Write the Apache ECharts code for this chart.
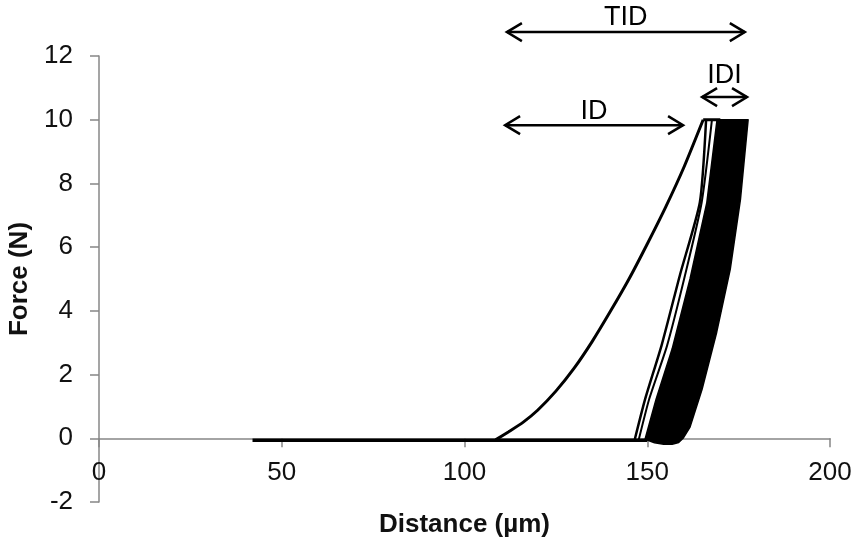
<!DOCTYPE html>
<html>
<head>
<meta charset="utf-8">
<title>Force vs distance</title>
<script src="https://cdn.jsdelivr.net/npm/echarts@6/dist/echarts.min.js"></script>
<style>
  html, body { margin: 0; padding: 0; background: #fff; }
  #main { width: 856px; height: 545px; }
</style>
</head>
<body>
<div id="main"></div>
<script>
// approach before contact, force ~ 0
var baseX = [42, 150];
var baseY = [-0.06, -0.06];

// first loading up to 10 N
var loadX = [108.5, 112, 116, 120, 125, 130, 135, 140, 145, 150, 155, 160, 165.3];
var loadY = [-0.05, 0.2, 0.5, 0.88, 1.48, 2.2, 3.05, 4.0, 5.0, 6.1, 7.25, 8.5, 10];

// hold at 10 N
var holdX = [165.3, 170];
var holdY = [10, 10];

// first two unload / reload lines left of the cycle band
var unloadAX = [166.1, 164.4, 159.0, 154.0, 149.4, 146.6];
var unloadAY = [10, 7.41, 5.15, 2.95, 1.22, -0.03];
var unloadBX = [167.7, 164.9, 160.3, 155.4, 150.5, 147.7];
var unloadBY = [10, 7.41, 5.1, 2.9, 1.22, -0.03];

// outline of the dense band of repeated cycles
var bandX = [169.1, 166.3, 161.7, 156.8, 152.4, 149.4, 152.0, 154.5, 156.8, 158.6, 159.8, 161.7, 165.0, 169.0, 172.7, 175.5, 177.6];
var bandY = [10, 7.4, 5.0, 2.8, 1.22, -0.03, -0.14, -0.19, -0.19, -0.13, 0.0, 0.35, 1.54, 3.33, 5.3, 7.5, 10];

// double arrows drawn above the curves
var arrowNames = ['TID', 'ID', 'IDI'];
var arrowFrom = [111.6, 111.1, 165.0];
var arrowTo = [176.7, 159.8, 177.3];
var arrowY = [12.75, 9.83, 10.71];

var xTicks = [0, 200, 50];
var yTicks = [-2, 12, 2];

function pairs(xs, ys) {
    return xs.map(function (x, i) { return [x, ys[i]]; });
}

var myChart = echarts.init(document.getElementById('main'));

var axisGray = '#878787';
var font = 'Liberation Sans, Arial, sans-serif';

function lineSeries(xs, ys, width, smooth) {
    return {
        type: 'line',
        data: pairs(xs, ys),
        showSymbol: false,
        smooth: smooth || false,
        silent: true,
        lineStyle: { color: '#000', width: width },
        z: 3
    };
}

var option = {
    animation: false,
    grid: { left: 99, right: 26, top: 56, bottom: 43, containLabel: false, outerBoundsMode: 'none' },
    xAxis: {
        type: 'value',
        min: xTicks[0], max: xTicks[1], interval: xTicks[2],
        axisLine: { onZero: true, lineStyle: { color: axisGray, width: 1.5 } },
        axisTick: { show: true, length: 9, lineStyle: { color: axisGray, width: 1.5 } },
        // labels sit at the grid bottom, pull them up next to the zero line
        axisLabel: { fontSize: 26, color: '#111', margin: -42, fontFamily: font },
        splitLine: { show: false },
        name: 'Distance (µm)',
        nameLocation: 'middle',
        nameGap: 10,
        nameTextStyle: { fontSize: 26, fontWeight: 'bold', color: '#111', fontFamily: font }
    },
    yAxis: {
        type: 'value',
        min: yTicks[0], max: yTicks[1], interval: yTicks[2],
        axisLine: { show: true, onZero: false, lineStyle: { color: axisGray, width: 1.5 } },
        axisTick: { show: true, length: 9, lineStyle: { color: axisGray, width: 1.5 } },
        axisLabel: { fontSize: 26, color: '#111', margin: 26, fontFamily: font },
        splitLine: { show: false },
        name: 'Force (N)',
        nameLocation: 'middle',
        nameGap: 66,
        nameTextStyle: { fontSize: 26, fontWeight: 'bold', color: '#111', fontFamily: font }
    },
    series: [
        lineSeries(baseX, baseY, 3.5),
        lineSeries(loadX, loadY, 3, 0.2),
        lineSeries(holdX, holdY, 3),
        lineSeries(unloadAX, unloadAY, 2.5, 0.2),
        lineSeries(unloadBX, unloadBY, 2, 0.2),
        {
            type: 'custom',
            silent: true,
            data: [[bandX[0], bandY[0]]],
            renderItem: function (params, api) {
                var pts = bandX.map(function (x, i) { return api.coord([x, bandY[i]]); });
                return {
                    type: 'polygon',
                    shape: { points: pts },
                    style: { fill: '#000', stroke: '#000', lineWidth: 1.5, lineJoin: 'round' }
                };
            },
            z: 4
        },
        {
            type: 'custom',
            silent: true,
            clip: false,
            data: arrowNames.map(function (n, i) { return [arrowFrom[i], arrowY[i]]; }),
            encode: { x: 0, y: 1 },
            renderItem: function (params, api) {
                var i = params.dataIndex;
                var p1 = api.coord([arrowFrom[i], arrowY[i]]);
                var p2 = api.coord([arrowTo[i], arrowY[i]]);
                var w = 15, h = 9;
                var textGap = [15, 14, 22][i];
                var st = { stroke: '#000', lineWidth: 2.5, fill: null };
                return {
                    type: 'group',
                    children: [
                        { type: 'line', shape: { x1: p1[0], y1: p1[1], x2: p2[0], y2: p2[1] }, style: st },
                        { type: 'polyline', shape: { points: [[p1[0] + w, p1[1] - h], [p1[0], p1[1]], [p1[0] + w, p1[1] + h]] }, style: st },
                        { type: 'polyline', shape: { points: [[p2[0] - w, p2[1] - h], [p2[0], p2[1]], [p2[0] - w, p2[1] + h]] }, style: st },
                        {
                            type: 'text',
                            x: (p1[0] + p2[0]) / 2,
                            y: p1[1] - textGap,
                            style: {
                                text: arrowNames[i], fontSize: 27, fontFamily: font,
                                fill: '#000', align: 'center', verticalAlign: 'middle'
                            }
                        }
                    ]
                };
            },
            z: 5
        }
    ]
};

myChart.setOption(option);
</script>
</body>
</html>
